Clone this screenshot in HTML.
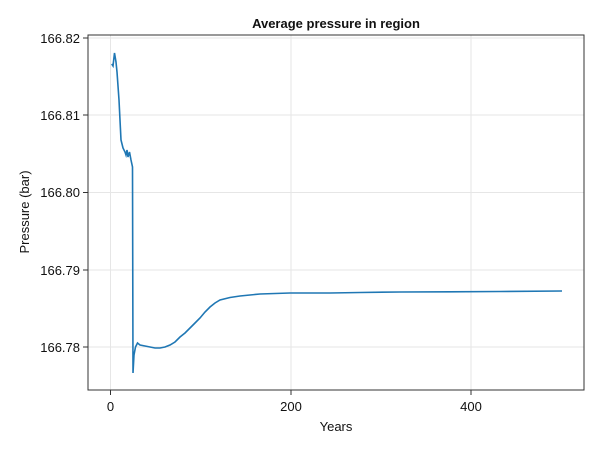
<!DOCTYPE html>
<html><head><style>body{margin:0;background:#fff}</style></head><body>
<svg width="600" height="450" xmlns="http://www.w3.org/2000/svg" font-family="Liberation Sans, sans-serif">
<rect width="600" height="450" fill="#fff"/>
<g stroke="#e6e6e6" stroke-width="1">
<line x1="110.5" y1="35" x2="110.5" y2="390"/><line x1="291" y1="35" x2="291" y2="390"/><line x1="471" y1="35" x2="471" y2="390"/>
<line x1="88" y1="38" x2="584" y2="38"/><line x1="88" y1="115" x2="584" y2="115"/><line x1="88" y1="192.5" x2="584" y2="192.5"/><line x1="88" y1="270" x2="584" y2="270"/><line x1="88" y1="347" x2="584" y2="347"/>
</g>
<rect x="88" y="35" width="496" height="355" fill="none" stroke="#333" stroke-width="1"/>
<g stroke="#333"><line x1="110.5" y1="390" x2="110.5" y2="395"/><line x1="291" y1="390" x2="291" y2="395"/><line x1="471" y1="390" x2="471" y2="395"/>
<line x1="83" y1="38" x2="88" y2="38"/><line x1="83" y1="115" x2="88" y2="115"/><line x1="83" y1="192.5" x2="88" y2="192.5"/><line x1="83" y1="270" x2="88" y2="270"/><line x1="83" y1="347" x2="88" y2="347"/></g>
<g font-size="13" fill="#111" text-anchor="middle"><text x="110.5" y="411">0</text><text x="291" y="411">200</text><text x="471" y="411">400</text></g>
<g font-size="13" fill="#111" text-anchor="end"><text x="80" y="43">166.82</text><text x="80" y="120">166.81</text><text x="80" y="197">166.80</text><text x="80" y="275">166.79</text><text x="80" y="352">166.78</text></g>
<text x="336" y="431" font-size="13" text-anchor="middle" fill="#111">Years</text>
<text transform="translate(29,212) rotate(-90)" font-size="13" text-anchor="middle" fill="#111">Pressure (bar)</text>
<text x="336" y="28" font-size="13" font-weight="bold" text-anchor="middle" fill="#111">Average pressure in region</text>
<polyline fill="none" stroke="#1f77b4" stroke-width="1.6" points="111.7,64 113,66 114.5,53 116,62 117,72 119,100 121,140 123,148 125,152 126,155 127,150 128,157 129.5,152 131,160 132.5,167 133,373 134,355 135.5,347 137.5,343 140,345 145,346 150,347 155,348 160,348 165,347 170,345 175,342 180,337 185,333 190,328 195,323 200,318 205,312 210,307 215,303 220,300 230,297.5 240,296 250,295 260,294 275,293.5 290,293 330,293 360,292.5 400,292 450,291.8 500,291.5 562,291"/>
</svg>
</body></html>
